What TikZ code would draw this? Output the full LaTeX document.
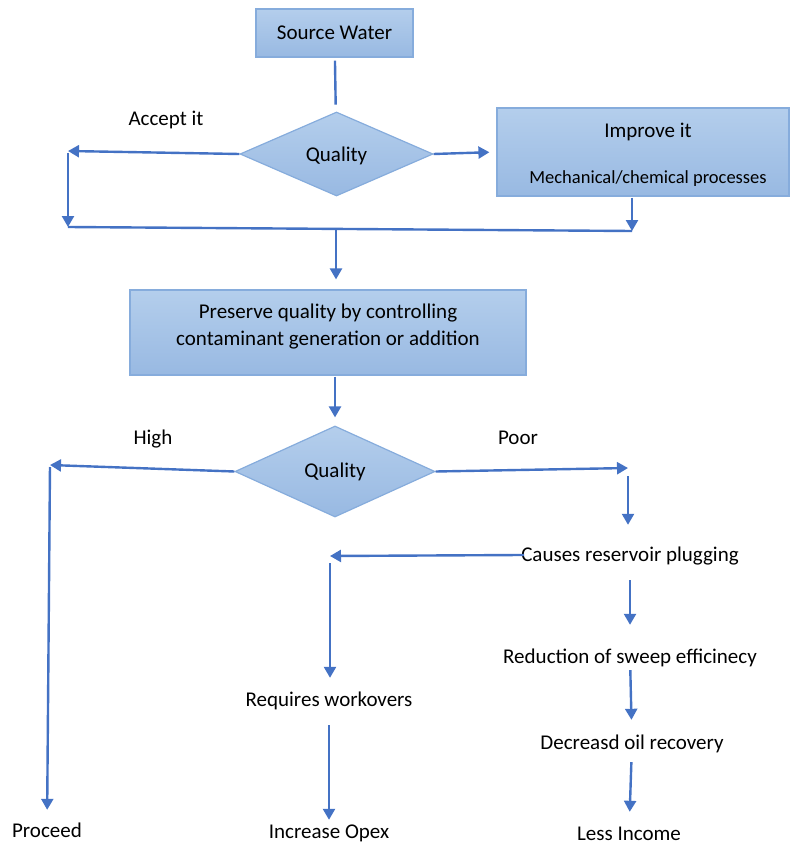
\documentclass[tikz,border=0pt]{standalone}
\usepackage{fontspec}
\setmainfont{Carlito}
\usetikzlibrary{arrows.meta,shapes.geometric}
\definecolor{flowblue}{HTML}{4472C4}
\definecolor{boxtop}{HTML}{B4CEEC}
\definecolor{boxbottom}{HTML}{98B9E2}
\definecolor{boxedge}{HTML}{86ACDC}
\tikzset{
  plain/.style={draw=flowblue, line width=2.4pt},
  flow/.style={plain, -{Triangle[length=11pt,width=12pt]}},
  box/.style={draw=boxedge, line width=1.2pt, top color=boxtop, bottom color=boxbottom,
    font=\fontsize{21}{27}\selectfont},
  decision/.style={diamond, aspect=2.3, inner sep=0pt, draw=boxedge, line width=1.2pt,
    top color=boxtop, bottom color=boxbottom, font=\fontsize{21}{25}\selectfont},
  lbl/.style={inner sep=0pt, text height=15.5pt, text depth=2.5pt, font=\fontsize{21}{25}\selectfont},
  smalllbl/.style={lbl, font=\fontsize{18.5}{22}\selectfont}
}
\begin{document}
\begin{tikzpicture}[x=1pt,y=-1pt]%
\useasboundingbox (0,0) rectangle (789,845);%
%
% source and first check
\node[box, minimum width=157pt, minimum height=48pt] (source) at (334.5,33) {Source Water};%
\node[decision, minimum width=193pt, minimum height=84pt, text height=18pt, text depth=2pt] (qual1) at (336.5,154) {Quality};%
\node[lbl] (accept) at (166,119) {Accept it};%
\node[box, minimum width=292pt, minimum height=88pt] (improve) at (643,152) {};%
\node[lbl] (improvetxt) at (648,131) {Improve it};%
\node[smalllbl] (mechtxt) at (648,177) {Mechanical/chemical processes};%
\coordinate (acceptend) at (68,151);%
\coordinate (joinl) at (68,227);%
\coordinate (joinr) at (632,231);%
\coordinate (joinm) at (336,229.5);%
\draw[plain, shorten <=3pt, shorten >=7pt] (source) -- (qual1);%
\draw[flow] (qual1.west) -- (acceptend);%
\draw[flow, shorten <=2pt] (acceptend) -- (joinl);%
\draw[plain] (joinl) -- (joinr);%
\draw[flow, shorten >=7pt] (qual1.east) -- (improve.west);%
\draw[flow, shorten <=1pt] (improve.south -| joinr) -- (joinr);%
%
% preserve quality
\node[box, minimum width=396pt, minimum height=85pt] (preserve) at (328,332.5) {};%
\node[lbl, align=center, text height=, text depth=, font=\fontsize{21}{27}\selectfont] (preservetxt) at (328,327)
  {Preserve quality by controlling\\contaminant generation or addition};%
\draw[flow, shorten >=10pt] (joinm) -- (preserve.north -| joinm);%
%
% second check
\node[decision, minimum width=200pt, minimum height=91pt] (qual2) at (335,471.5) {Quality};%
\node[lbl] (high) at (153,438) {High};%
\node[lbl] (poor) at (518,438) {Poor};%
\draw[flow, shorten <=1pt, shorten >=8pt] (preserve.south -| qual2.north) -- (qual2.north);%
%
% consequences
\node[lbl] (proceed) at (47,831) {Proceed};%
\node[lbl] (causes) at (630,555) {Causes reservoir plugging};%
\node[lbl] (workover) at (329,700) {Requires workovers};%
\node[lbl] (opex) at (329,832) {Increase Opex};%
\node[lbl] (sweep) at (630,657) {Reduction of sweep efficinecy};%
\node[lbl] (recovery) at (632,743) {Decreasd oil recovery};%
\node[lbl] (income) at (629,834) {Less Income};%
\coordinate (highend) at (50,465);%
\coordinate (poorend) at (628,468);%
\coordinate (plugend) at (330,556);%
\draw[flow] (qual2.west) -- (highend);%
\draw[flow, shorten <=2pt, shorten >=12pt] (highend) -- (proceed);%
\draw[flow] (qual2.east) -- (poorend);%
\draw[flow, shorten <=8pt, shorten >=21pt] (poorend) -- (causes.north -| poorend);%
\draw[flow, shorten <=-3pt] (causes.west) -- (plugend);%
\draw[flow, shorten <=7pt, shorten >=13pt] (plugend) -- (workover.north -| plugend);%
\draw[flow, shorten <=16pt, shorten >=3pt] (workover) -- (opex);%
\draw[flow, shorten <=16pt, shorten >=23pt] (causes) -- (sweep);%
\draw[flow, shorten <=4pt, shorten >=14pt] (sweep) -- (recovery);%
\draw[flow, shorten <=10pt, shorten >=13pt] (recovery) -- (income);%
%
\end{tikzpicture}
\end{document}
